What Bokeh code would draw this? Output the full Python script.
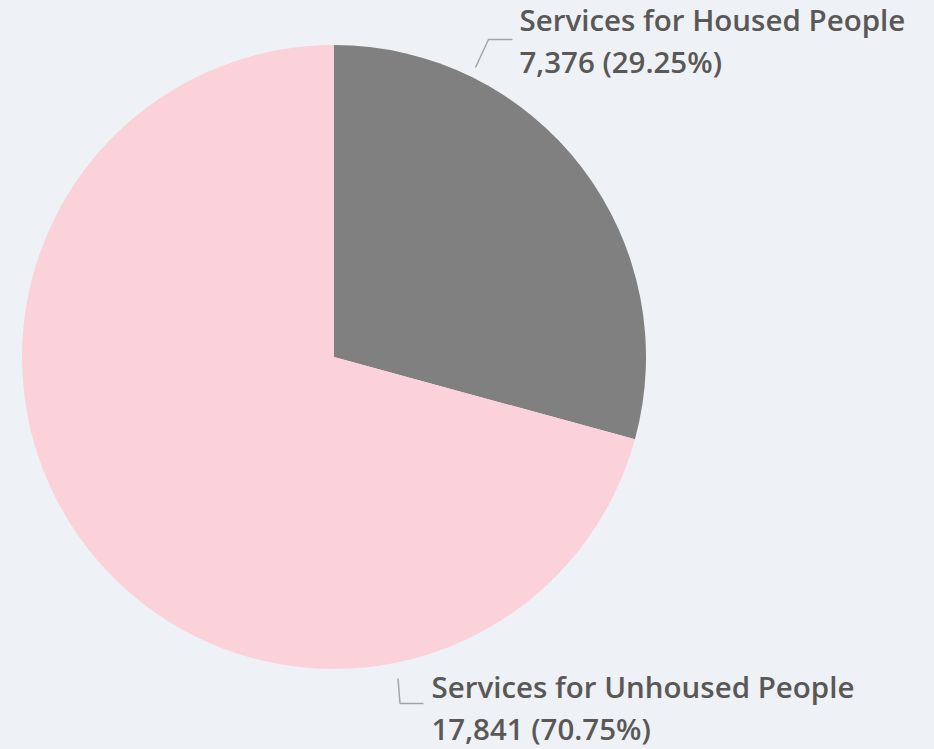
import numpy as np
from bokeh.plotting import figure
from bokeh.models import Range1d, ColumnDataSource
from bokeh.embed import file_html
from bokeh.resources import INLINE
from bokeh.core.properties import value

# ---- data ----
categories = ["Services for Housed People", "Services for Unhoused People"]
counts = [7376, 17841]
colors = ["#808080", "#FCD2DA"]

BG = "#EEF2F7"
TEXT = "#5A5856"
FONT = "Open Sans SemiBold, Open Sans"

W, H = 934, 749
# data coordinates == page pixels (x), y measured upward from page bottom
p = figure(width=W, height=H, x_range=Range1d(0, W), y_range=Range1d(0, H),
           output_backend="svg", toolbar_location=None, min_border=0)
p.axis.visible = False
p.grid.visible = False
p.outline_line_color = None
p.background_fill_color = BG
p.border_fill_color = BG

total = sum(counts)
frac = np.array(counts) / total
ends = np.cumsum(frac) * 2 * np.pi
starts = ends - frac * 2 * np.pi

cx, cy, r = 333.5, H - 356.5, 312
src = ColumnDataSource(dict(
    x=[cx] * len(counts), y=[cy] * len(counts),
    start=list(np.pi / 2 - starts), end=list(np.pi / 2 - ends),
    color=colors,
))
p.wedge(x="x", y="y", radius=r, start_angle="start", end_angle="end",
        direction="clock", fill_color="color", line_color=None, source=src)

line1 = categories
line2 = [f"{c:,} ({f * 100:.2f}%)" for c, f in zip(counts, frac)]

# label anchors (page px): x, baseline of first line
anchors = [(519, 19), (431, 686)]
LH = 42
lx, ly, lt = [], [], []
for (ax, ay), a, b in zip(anchors, line1, line2):
    lx += [ax, ax]
    ly += [H - ay, H - (ay + LH)]
    lt += [a, b]
p.text(x=lx, y=ly, text=lt, text_font=value(FONT), text_font_size="29.5px",
       text_color=TEXT, text_baseline="alphabetic", text_align="left")

# leader lines
p.line(x=[475, 488, 512], y=[H - 67, H - 39, H - 39], line_color="#A5A5A5", line_width=1.5)
p.line(x=[397.5, 399.5, 423], y=[H - 678, H - 703, H - 703], line_color="#A5A5A5", line_width=1.5)

html = file_html(p, INLINE)
html = html.replace("<head>", "<head><style>html,body{background:%s;margin:0;padding:0;overflow:hidden;}</style>" % BG, 1)
open("out.html", "w").write(html)
